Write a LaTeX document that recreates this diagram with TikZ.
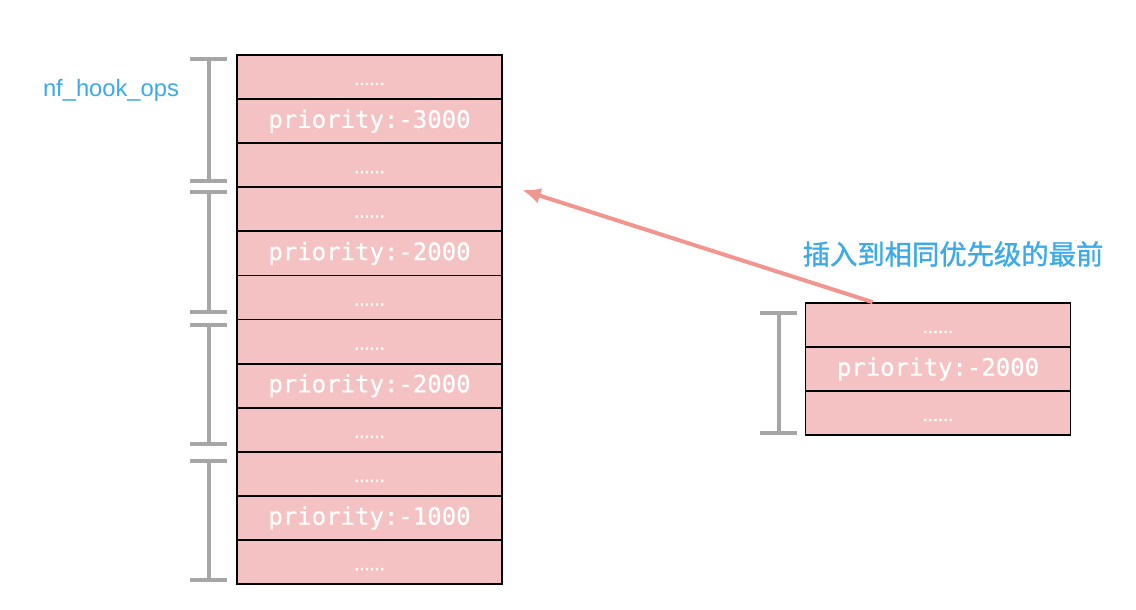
\documentclass[tikz,border=0pt]{standalone}
\usepackage{fontspec}
\setmainfont{Liberation Sans}
\newfontfamily\cjkfont[FakeBold=1.2]{Noto Sans CJK SC}
\newfontfamily\monofont[FakeBold=0.6]{DejaVu Sans Mono}
\newfontfamily\dotfont[FakeBold=3]{DejaVu Sans}
\usetikzlibrary{arrows.meta,calc}

\definecolor{cellpink}{RGB}{244,194,194}
\definecolor{bargray}{RGB}{166,166,166}
\definecolor{arrowred}{RGB}{240,150,143}
\definecolor{labelblue}{RGB}{59,170,230}

\tikzset{
  cell/.style={draw=black,line width=1.3pt,fill=cellpink,minimum width=198.75pt,minimum height=33pt,
    inner sep=0pt,text=white,text height=12pt,text depth=2pt},
  prio/.style={cell,font=\monofont\fontsize{18}{18}\selectfont},
  dots/.style={cell,text depth=0pt,font=\dotfont\fontsize{12}{12}\selectfont},
  bar/.style={draw=bargray,line width=3pt},
  insert/.style={draw=arrowred,line width=3pt,-{Latex[length=14pt,width=12pt]}},
  bluelabel/.style={text=labelblue,inner sep=0pt}
}

\begin{document}
\begin{tikzpicture}[x=0.75pt,y=0.75pt,yscale=-1,xscale=1]
\useasboundingbox (0,0) rectangle (1136,610);

% left list: four groups of three cells
\foreach \g/\p in {0/3000,1/2000,2/2000,3/1000}{
  \node[dots] (a\g) at (369.5,{77+132.3*\g}) {......};
  \node[prio] (b\g) at (369.5,{121.1+132.3*\g}) {priority:-\p};
  \node[dots] (c\g) at (369.5,{165.2+132.3*\g}) {......};
}

% brackets beside the groups
\foreach \t/\b in {59/181,192/312,325/444,461/580}{
  \draw[bar] (209,\t) -- (209,\b);
  \draw[bar] (190,\t) -- (227,\t);
  \draw[bar] (190,\b) -- (227,\b);
}

% new entry on the right
\node[dots] (na) at (938,325) {......};
\node[prio] (nb) at (938,369) {priority:-2000};
\node[dots] (nc) at (938,413) {......};

\draw[bar] (779,313) -- (779,433);
\draw[bar] (760,313) -- (797,313);
\draw[bar] (760,433) -- (797,433);

% insert arrow
\coordinate (tip) at (522,190);
\draw[insert] ($(na.north west)+(68,0)$) -- (tip);

% Text Node
\node[bluelabel,font=\fontsize{17.8}{18}\selectfont] (hooklabel) at (111,90) {nf\_hook\_ops};
% Text Node
\node[bluelabel,font=\cjkfont\fontsize{20.5}{21}\selectfont] (note) at (953,254) {插入到相同优先级的最前};

\end{tikzpicture}
\end{document}
